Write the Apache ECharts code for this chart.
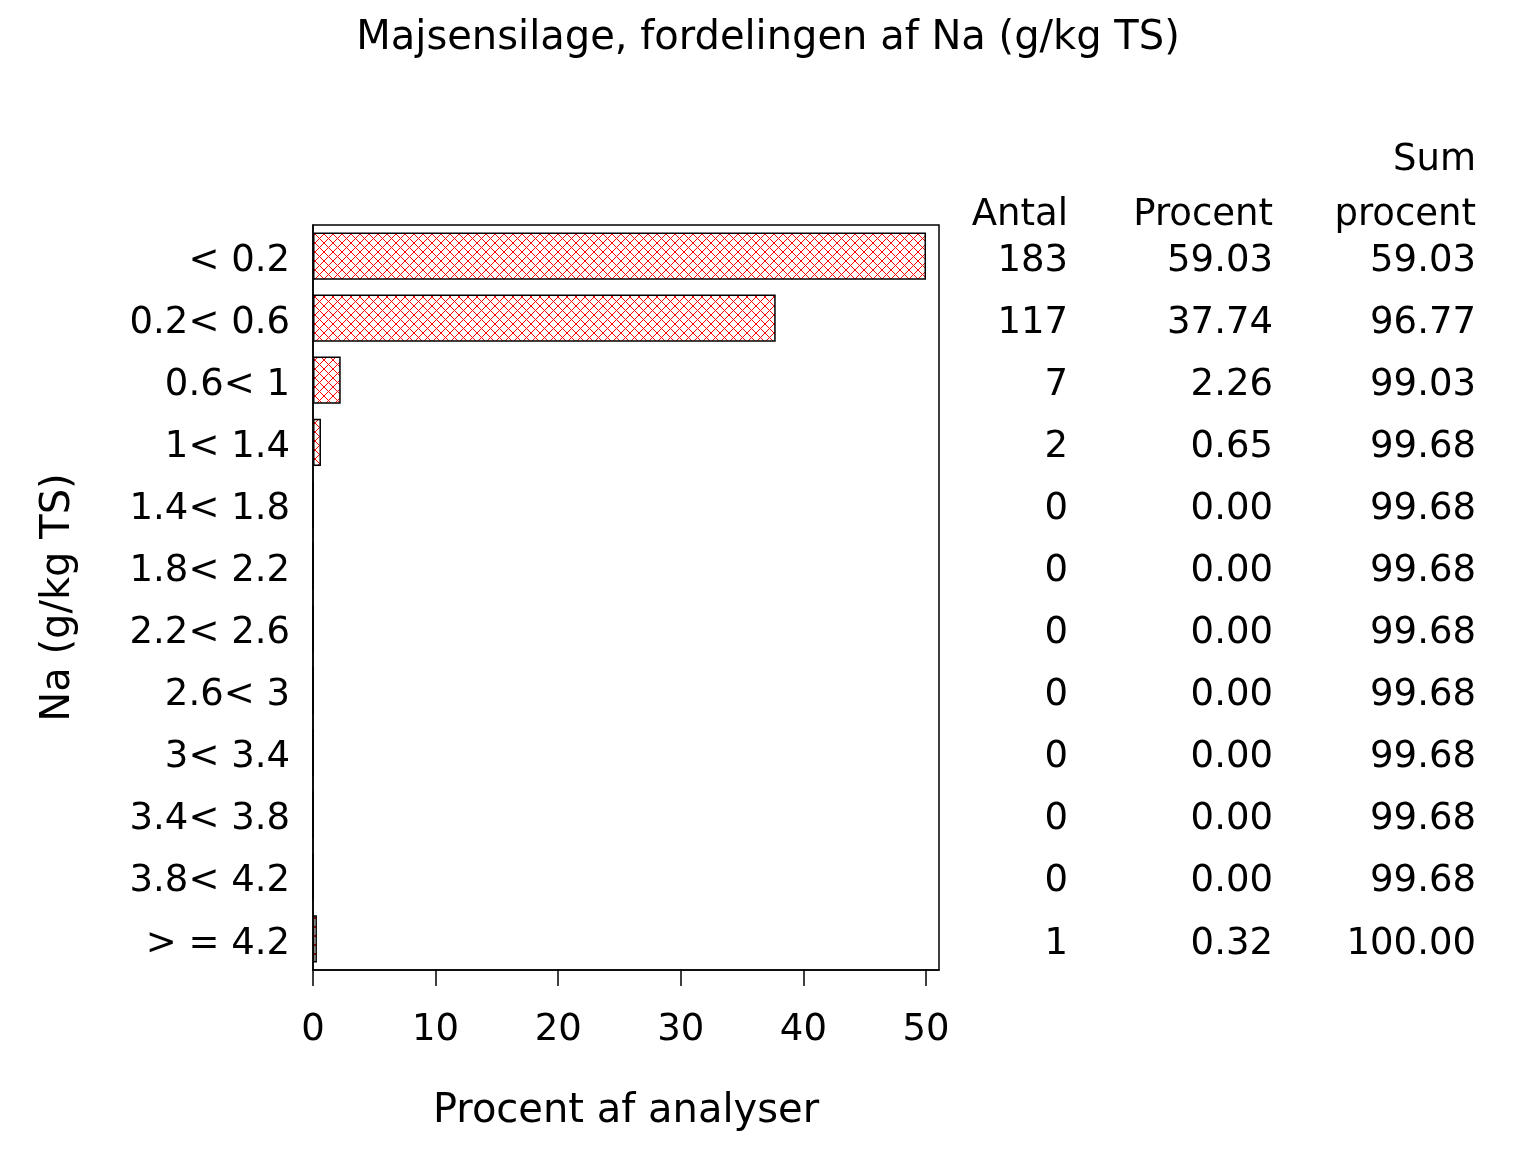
<!DOCTYPE html>
<html>
<head>
<meta charset="utf-8">
<script src="https://cdn.jsdelivr.net/npm/echarts@6/dist/echarts.min.js"></script>
<style>html,body{margin:0;padding:0;background:#fff;}#c{width:1536px;height:1152px;}</style>
</head>
<body>
<div id="c"></div>
<script>
const categories = ['< 0.2','0.2< 0.6','0.6< 1','1< 1.4','1.4< 1.8','1.8< 2.2','2.2< 2.6','2.6< 3','3< 3.4','3.4< 3.8','3.8< 4.2','> = 4.2'];
const antal = [183, 117, 7, 2, 0, 0, 0, 0, 0, 0, 0, 1];
const procent = ['59.03','37.74','2.26','0.65','0.00','0.00','0.00','0.00','0.00','0.00','0.00','0.32'];
const sumProcent = ['59.03','96.77','99.03','99.68','99.68','99.68','99.68','99.68','99.68','99.68','99.68','100.00'];
const xTicks = [0, 10, 20, 30, 40, 50];
const axisCap = 50;

const FONT = 'DejaVu Sans';
const FS = 37;
const FS_NAME = 40;

// crosshatch pattern
const pc = document.createElement('canvas');
pc.width = 9; pc.height = 9;
const g = pc.getContext('2d');
g.fillStyle = '#fff'; g.fillRect(0, 0, 9, 9);
g.strokeStyle = '#ff0000'; g.lineWidth = 1;
g.beginPath();
g.moveTo(0, 0); g.lineTo(9, 9);
g.moveTo(9, 0); g.lineTo(0, 9);
g.stroke();

const barData = procent.map(v => Math.min(parseFloat(v), axisCap));

const chart = echarts.init(document.getElementById('c'), null, {renderer: 'canvas'});

const richRow = {a: {fontFamily: FONT, fontSize: FS, color: '#000', padding: [10, 0, 0, 0]}};

function tableAxis(offset, values) {
  return {
    type: 'category', data: categories, inverse: true, position: 'right', offset: offset,
    axisLine: {show: false}, axisTick: {show: false}, splitLine: {show: false},
    axisLabel: {align: 'right', margin: 0, color: '#000', fontFamily: FONT, fontSize: FS,
      rich: richRow,
      formatter: (v, i) => '{a|' + String(values[i]) + '}'}
  };
}

function hdr(text, x, y) {
  return {type: 'text', x: x, y: y, style: {text: text, fill: '#000', font: FS + 'px "' + FONT + '"', textAlign: 'right', textVerticalAlign: 'middle'}};
}

chart.setOption({
  animation: false,
  backgroundColor: '#fff',
  textStyle: {fontFamily: FONT},
  title: {
    text: 'Majsensilage, fordelingen af Na (g/kg TS)',
    left: 'center', top: 14,
    textStyle: {fontFamily: FONT, fontSize: FS_NAME, fontWeight: 'normal', color: '#000'}
  },
  grid: {left: 313, top: 225, right: 597, bottom: 182, show: true, borderColor: '#000', borderWidth: 1.5, containLabel: false},
  xAxis: {
    type: 'value', min: 0, max: 51.06, interval: 10,
    name: 'Procent af analyser', nameLocation: 'middle', nameGap: 122,
    nameTextStyle: {fontFamily: FONT, fontSize: FS_NAME, color: '#000'},
    axisLine: {show: true, lineStyle: {color: '#000', width: 1.5}},
    axisTick: {show: true, length: 16, lineStyle: {color: '#000', width: 1.5}, customValues: xTicks},
    axisLabel: {margin: 42, color: '#000', fontFamily: FONT, fontSize: FS, customValues: xTicks},
    splitLine: {show: false}
  },
  yAxis: [
    {
      type: 'category', data: categories, inverse: true,
      name: 'Na (g/kg TS)', nameLocation: 'middle', nameGap: 234, nameRotate: 90,
      nameTextStyle: {fontFamily: FONT, fontSize: FS_NAME, color: '#000'},
      axisLine: {show: true, lineStyle: {color: '#000', width: 1.5}},
      axisTick: {show: false},
      axisLabel: {margin: 23, color: '#000', fontFamily: FONT, fontSize: FS, rich: richRow,
        formatter: v => '{a|' + v + '}'}
    },
    tableAxis(129, antal),
    tableAxis(334, procent),
    tableAxis(537, sumProcent)
  ],
  graphic: [
    hdr('Antal', 1068, 215),
    hdr('Procent', 1273, 215),
    hdr('Sum', 1476, 160),
    hdr('procent', 1476, 215)
  ],
  series: [{
    type: 'bar', yAxisIndex: 0, data: barData, barCategoryGap: '24%',
    itemStyle: {color: {image: pc, repeat: 'repeat'}, borderColor: '#000', borderWidth: 1.5}
  }]
});
</script>
</body>
</html>
